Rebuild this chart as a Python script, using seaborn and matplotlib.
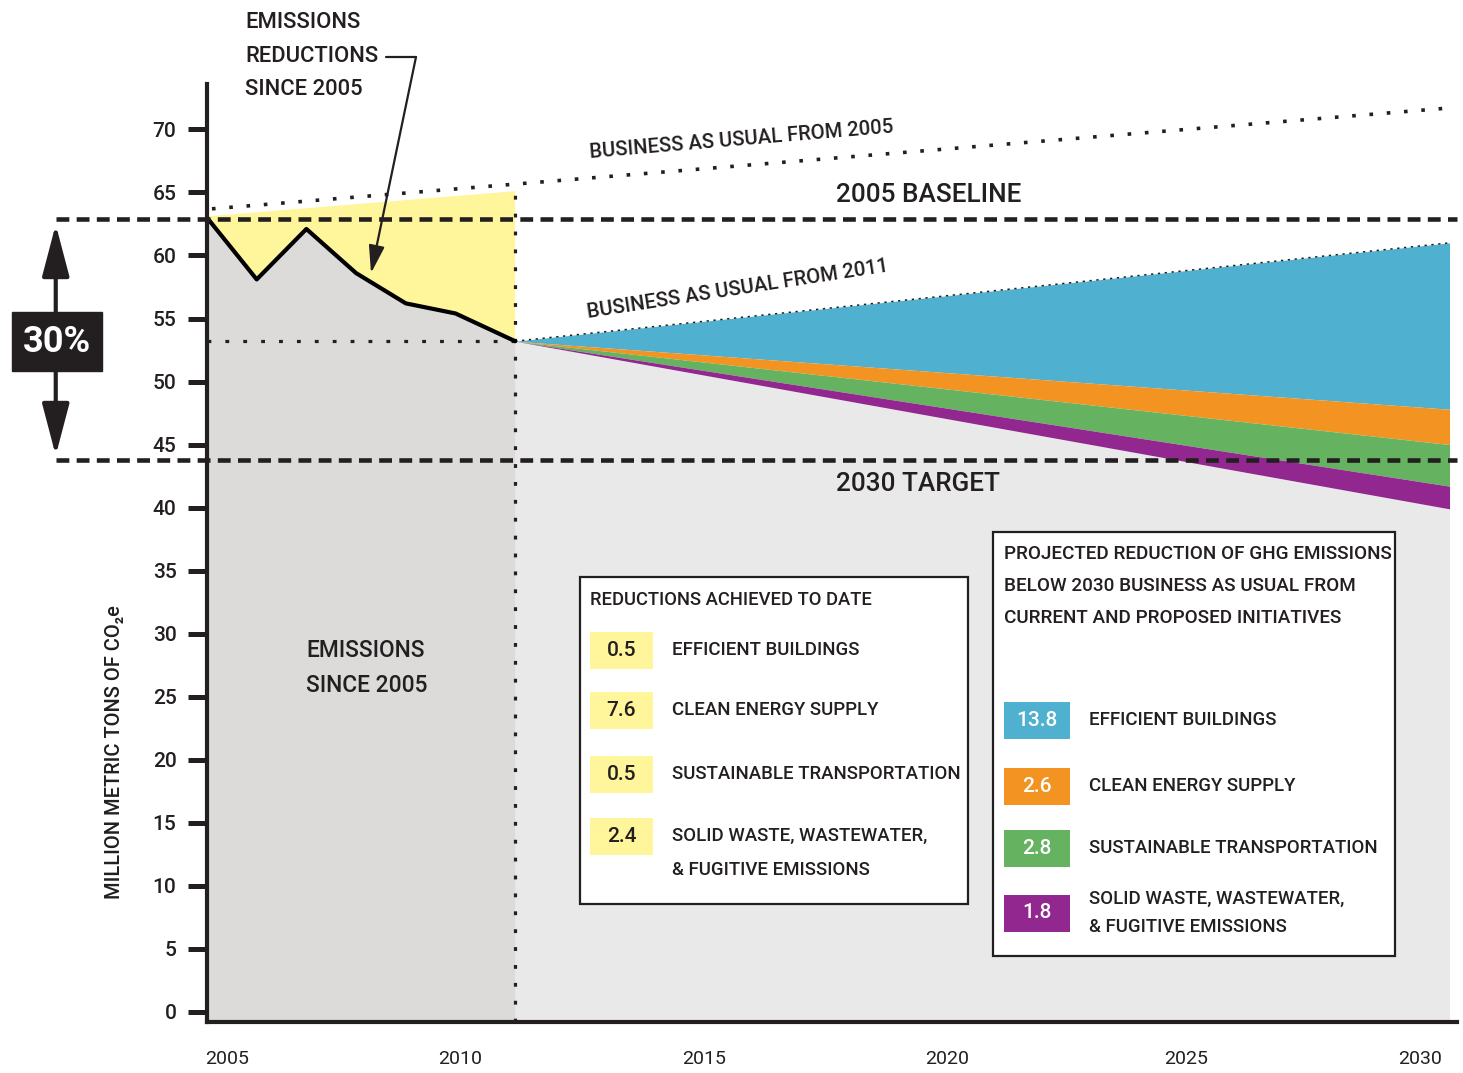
import numpy as np
import matplotlib
matplotlib.use("Agg")
import matplotlib.pyplot as plt
from matplotlib.patches import Rectangle
from matplotlib.lines import Line2D
import seaborn as sns

# historical emissions, million metric tons CO2e
hist_years = [2005, 2006, 2007, 2008, 2009, 2010, 2011.2]
hist_emissions = [63.0, 58.1, 62.1, 58.6, 56.2, 55.4, 53.2]

# business as usual from 2005: top edge of the yellow area and the dotted line
bau05_years = [2005, 2011.2]
bau05_fill = [63.1, 65.1]
bau05_line_years = [2005.1, 2030]
bau05_line = [63.7, 71.7]

# projection 2011 -> 2030, boundaries of the stacked wedges
proj_years = [2011.2, 2030]
bau11 = [53.2, 61.0]
after_buildings = [53.2, 47.8]
after_energy = [53.2, 45.0]
after_transport = [53.2, 41.7]
after_waste = [53.2, 39.9]

baseline_2005 = 62.9
target_2030 = 43.8

sector_labels = ["EFFICIENT BUILDINGS", "CLEAN ENERGY SUPPLY",
                 "SUSTAINABLE TRANSPORTATION",
                 "SOLID WASTE, WASTEWATER,\n& FUGITIVE EMISSIONS"]
achieved_values = ["0.5", "7.6", "0.5", "2.4"]
projected_values = ["13.8", "2.6", "2.8", "1.8"]

y_ticks = [0, 5, 10, 15, 20, 25, 30, 35, 40, 45, 50, 55, 60, 65, 70]
x_tick_labels = ["2005", "2010", "2015", "2020", "2025", "2030"]
x_tick_pos = [2005.4, 2010.1, 2015.0, 2019.9, 2024.7, 2029.4]

# colours
INK = "#231F20"
YELLOW = "#FFF59A"
GRAY_DARK = "#DCDBDA"
GRAY_LIGHT = "#E9E9E9"
proj_colors = ["#4FB0CF", "#F39321", "#65B361", "#92278F"]

W, H = 1463, 1073
YMIN, YMAX = -0.8, 73.6


def fx(px):
    return px / W


def fy(py):
    return 1 - py / H


sns.set_style("white")
plt.rcParams["font.family"] = ["Roboto", "DejaVu Sans"]
plt.rcParams["font.weight"] = "medium"
plt.rcParams["text.color"] = INK

fig = plt.figure(figsize=(W / 100, H / 100), dpi=100)
ax = fig.add_axes([fx(207), fy(1022), fx(1457) - fx(207), fy(84) - fy(1022)])
ax.set_xlim(2005, 2030.15)
ax.set_ylim(YMIN, YMAX)

# fills
ax.fill_between(hist_years, YMIN, hist_emissions, color=GRAY_DARK, lw=0)
ax.fill(hist_years + bau05_years[::-1], hist_emissions + bau05_fill[::-1],
        color=YELLOW, lw=0)
ax.fill_between(proj_years, YMIN, after_waste, color=GRAY_LIGHT, lw=0)
layers = [bau11, after_buildings, after_energy, after_transport, after_waste]
for i, c in enumerate(proj_colors):
    ax.fill_between(proj_years, layers[i + 1], layers[i], color=c, lw=0)

# lines
ax.plot(bau05_line_years, bau05_line, color=INK, lw=2.6, ls=(0, (1, 3.8)))
ax.plot(proj_years, bau11, color=INK, lw=1.1, ls=(0, (1.5, 3)))
ax.plot([hist_years[0], hist_years[-1]], [hist_emissions[-1]] * 2,
        color=INK, lw=2.3, ls=(0, (1.2, 4.4)))
ax.plot([hist_years[-1]] * 2, [YMIN, bau05_fill[-1]],
        color=INK, lw=2.3, ls=(0, (1.2, 4.4)))
sns.lineplot(x=hist_years, y=hist_emissions, color="black", lw=3, ax=ax)

ytr = ax.get_yaxis_transform()
for lvl in [baseline_2005, target_2030]:
    ax.plot([-0.121, 1.0], [lvl, lvl], transform=ytr, clip_on=False,
            color=INK, lw=3.3, ls=(0, (2.8, 1.6)))

# 30% arrow
ax.annotate("", xy=(-0.121, target_2030), xytext=(-0.121, baseline_2005),
            xycoords=ytr, textcoords=ytr, annotation_clip=False,
            arrowprops=dict(arrowstyle="<|-|>,head_length=1.6,head_width=0.42",
                            lw=3, color=INK, shrinkA=4, shrinkB=3,
                            mutation_scale=20))
fig.add_artist(Rectangle((fx(12), fy(371)), fx(102) - fx(12), fy(312) - fy(371),
                         transform=fig.transFigure, color=INK, zorder=5))
fig.text(fx(57), fy(342), "30%", color="white", fontsize=26, fontweight="bold",
         ha="center", va="center", zorder=6)

# axes styling
for s in ["top", "right"]:
    ax.spines[s].set_visible(False)
for s in ["left", "bottom"]:
    ax.spines[s].set_linewidth(3)
    ax.spines[s].set_color(INK)
ax.spines["left"].set_zorder(4)
ax.set_yticks(y_ticks)
ax.set_yticklabels([str(v) for v in y_ticks])
ax.set_xticks(x_tick_pos)
ax.set_xticklabels(x_tick_labels)
ax.tick_params(axis="y", length=14, width=3.6, color=INK, pad=8,
               labelsize=15, labelcolor=INK, left=True)
ax.tick_params(axis="x", length=0, pad=20, labelsize=14, labelcolor=INK)
for t in ax.get_xticklabels():
    t.set_fontweight("normal")
fig.text(fx(115), fy(752), "MILLION METRIC TONS OF CO\u2082e", rotation=90,
         ha="center", va="center", fontsize=14.4)

# annotations
fig.text(fx(245), fy(56), "EMISSIONS\nREDUCTIONS\nSINCE 2005", ha="left",
         va="center", fontsize=15.8, linespacing=1.8)
fig.add_artist(Line2D([fx(386), fx(416)], [fy(57), fy(57)],
                      transform=fig.transFigure, lw=1.6, color=INK))
ax.annotate("", xy=(2008.3, 58.6), xytext=(fx(416), fy(57)),
            textcoords="figure fraction", annotation_clip=False,
            arrowprops=dict(arrowstyle="-|>,head_length=1.4,head_width=0.4",
                            shrinkA=0, shrinkB=0, lw=1.6, color=INK,
                            mutation_scale=12))
fig.text(fx(306), fy(668), "EMISSIONS\nSINCE 2005", ha="left", va="center",
         fontsize=16.4, linespacing=1.68)
fig.text(fx(836), fy(195), "2005 BASELINE", ha="left", va="center", fontsize=18.8)
fig.text(fx(836), fy(484), "2030 TARGET", ha="left", va="center", fontsize=18.8)
fig.text(fx(590), fy(158), "BUSINESS AS USUAL FROM 2005", ha="left",
         va="baseline", rotation=4.8, rotation_mode="anchor", fontsize=14.6)
fig.text(fx(588), fy(318), "BUSINESS AS USUAL FROM 2011", ha="left",
         va="baseline", rotation=8.8, rotation_mode="anchor", fontsize=14.6)


# legend boxes
def box(x0, y0, x1, y1):
    fig.add_artist(Rectangle((fx(x0), fy(y1)), fx(x1) - fx(x0), fy(y0) - fy(y1),
                             transform=fig.transFigure, facecolor="white",
                             edgecolor=INK, lw=1.6, zorder=3))


def swatch(x0, yc, w, h, color, value, tcolor):
    fig.add_artist(Rectangle((fx(x0), fy(yc + h / 2)), w / W, h / H,
                             transform=fig.transFigure, color=color, lw=0, zorder=4))
    fig.text(fx(x0 + w / 2), fy(yc), value, ha="center", va="center",
             fontsize=15, color=tcolor, zorder=5)


LEG = 13.4
box(580, 577, 968, 904)
fig.text(fx(590), fy(600), "REDUCTIONS ACHIEVED TO DATE", ha="left",
         va="center", fontsize=13.2, zorder=5)
rows1 = [650, 710, 774, 836]
for yc, val, lab in zip(rows1, achieved_values, sector_labels):
    swatch(590, yc, 63, 37, YELLOW, val, INK)
    for k, line in enumerate(lab.split("\n")):
        fig.text(fx(672), fy(yc + 34 * k), line, ha="left", va="center",
                 fontsize=LEG, zorder=5)

box(993, 532, 1395, 956)
for k, line in enumerate(["PROJECTED REDUCTION OF GHG EMISSIONS",
                          "BELOW 2030 BUSINESS AS USUAL FROM",
                          "CURRENT AND PROPOSED INITIATIVES"]):
    fig.text(fx(1004), fy(554 + 32 * k), line, ha="left", va="center",
             fontsize=13.6, zorder=5)
rows2 = [720, 786, 848, 913]
for yc, val, lab, col in zip(rows2, projected_values, sector_labels, proj_colors):
    swatch(1004, yc, 66, 37, col, val, "white")
    lines = lab.split("\n")
    off = -14 * (len(lines) - 1)
    for k, line in enumerate(lines):
        fig.text(fx(1089), fy(yc + off + 28 * k), line, ha="left", va="center",
                 fontsize=LEG, zorder=5)

fig.savefig("out.png", dpi=100)
